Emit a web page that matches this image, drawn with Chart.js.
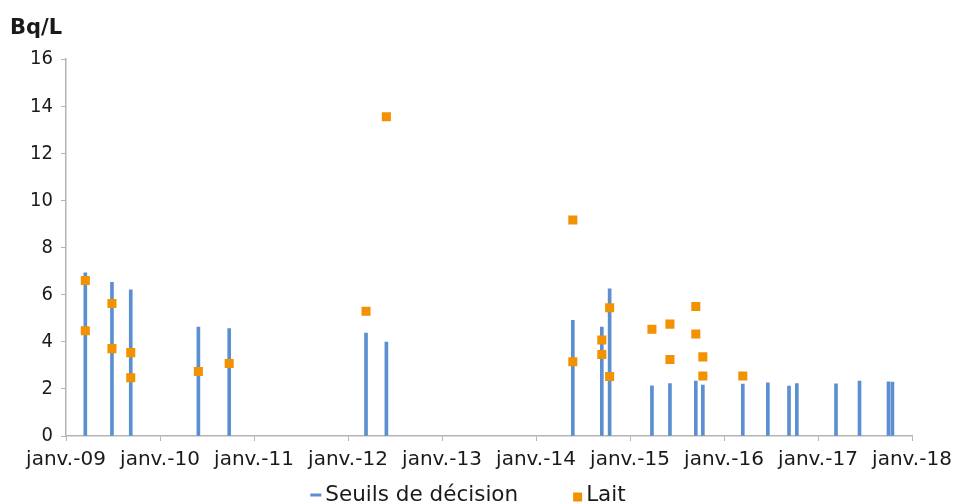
<!DOCTYPE html>
<html>
<head>
<meta charset="utf-8">
<script src="https://cdn.jsdelivr.net/npm/chart.js@4"></script>
<style>
    body { margin: 0; background: #fff; }
    #wrap { width: 953px; height: 503px; position: relative; }
</style>
</head>
<body>
<div id="wrap"><canvas id="chart"></canvas></div>
<script>
// Seuils de décision (bars)
const seuilDates = ['2009-03-15', '2009-06-27', '2009-09-09', '2010-05-28', '2010-09-26',
    '2012-03-10', '2012-05-28', '2014-05-22', '2014-09-13', '2014-10-13',
    '2015-03-25', '2015-06-04', '2015-09-13', '2015-10-10', '2016-03-13',
    '2016-06-19', '2016-09-10', '2016-10-10', '2017-03-10', '2017-06-10',
    '2017-10-01', '2017-10-16'];
const seuilValues = [6.93, 6.52, 6.21, 4.63, 4.56,
    4.37, 3.99, 4.91, 4.63, 6.25,
    2.13, 2.23, 2.33, 2.16, 2.20,
    2.26, 2.12, 2.23, 2.21, 2.33,
    2.30, 2.29];

// Lait (points)
const laitDates = ['2009-03-15', '2009-03-15', '2009-06-27', '2009-06-27', '2009-09-09', '2009-09-09',
    '2010-05-28', '2010-09-26', '2012-03-10', '2012-05-28',
    '2014-05-22', '2014-05-22', '2014-09-13', '2014-09-13', '2014-10-13', '2014-10-13',
    '2015-03-25', '2015-06-04', '2015-06-04', '2015-09-13', '2015-09-13',
    '2015-10-10', '2015-10-10', '2016-03-13'];
const laitValues = [6.60, 4.47, 5.63, 3.71, 3.54, 2.47,
    2.74, 3.08, 5.30, 13.56,
    9.17, 3.15, 4.08, 3.46, 5.45, 2.53,
    4.53, 4.75, 3.25, 5.50, 4.33,
    3.36, 2.55, 2.55];

const yearLabels = ['janv.-09', 'janv.-10', 'janv.-11', 'janv.-12', 'janv.-13',
    'janv.-14', 'janv.-15', 'janv.-16', 'janv.-17', 'janv.-18'];
const yTicks = [0, 2, 4, 6, 8, 10, 12, 14, 16];

const FONT = "'DejaVu Sans', sans-serif";
const FONT_NARROW = "'DejaVu Sans Condensed', 'DejaVu Sans', sans-serif";
const TEXT = '#1a1a1a';
const BLUE = '#5b8fd0';
const ORANGE = '#f39200';
const AXIS = '#b4b4b4';

// months elapsed since janv. 2009
function toMonths(str) {
    const [y, m, d] = str.split('-').map(Number);
    return (y - 2009) * 12 + (m - 1) + (d - 1) / 30;
}

// Legend drawn under the axis labels, Excel-like spacing
const bottomLegend = {
    id: 'bottomLegend',
    afterDraw(chart) {
        const ctx = chart.ctx;
        const baseline = 501;
        const gapItems = 55;
        ctx.save();
        ctx.font = '21.5px ' + FONT;
        ctx.textBaseline = 'alphabetic';

        const items = chart.data.datasets.map(ds => {
            const isBar = ds.type === 'bar';
            return {
                text: ds.label,
                color: isBar ? ds.backgroundColor : ds.pointBackgroundColor,
                w: isBar ? 11 : 9,
                h: isBar ? 3 : 9,
                textW: ctx.measureText(ds.label).width
            };
        });
        const total = items.reduce((s, it) => s + it.w + 4 + it.textW, 0) + gapItems * (items.length - 1);
        let x = 468 - total / 2;

        items.forEach(it => {
            ctx.fillStyle = it.color;
            ctx.fillRect(x, baseline - 6 - it.h / 2 + (it.h > 3 ? 2 : 0), it.w, it.h);
            x += it.w + 4;
            ctx.fillStyle = TEXT;
            ctx.fillText(it.text, x, baseline);
            x += it.textW + gapItems;
        });
        ctx.restore();
    }
};

Chart.defaults.font.family = FONT;
Chart.defaults.color = TEXT;

new Chart(document.getElementById('chart'), {
    type: 'bar',
    data: {
        datasets: [{
            type: 'bar',
            label: 'Seuils de décision',
            data: seuilDates.map((d, i) => ({ x: toMonths(d), y: seuilValues[i] })),
            backgroundColor: BLUE,
            barThickness: 3,
            order: 2
        }, {
            type: 'line',
            label: 'Lait',
            data: laitDates.map((d, i) => ({ x: toMonths(d), y: laitValues[i] })),
            showLine: false,
            pointStyle: 'rect',
            pointRadius: 6.4,
            pointBackgroundColor: ORANGE,
            pointBorderColor: ORANGE,
            pointBorderWidth: 0,
            backgroundColor: ORANGE,
            borderColor: ORANGE,
            order: 1
        }]
    },
    plugins: [bottomLegend],
    options: {
        responsive: true,
        maintainAspectRatio: false,
        animation: false,
        layout: { padding: { left: 10, right: 41, top: 0, bottom: 33 } },
        plugins: {
            title: {
                display: true,
                text: 'Bq/L',
                align: 'start',
                color: TEXT,
                font: { size: 21, weight: 'bold' },
                padding: { top: 16, bottom: 18 }
            },
            legend: { display: false },
            tooltip: { enabled: false }
        },
        scales: {
            x: {
                type: 'linear',
                min: 0,
                max: 108,
                offset: false,
                afterBuildTicks: axis => {
                    axis.ticks = yearLabels.map((_, i) => ({ value: i * 12 }));
                },
                afterFit: axis => {
                    axis.height = 34;
                    axis.paddingLeft = 0;
                    axis.paddingRight = 0;
                },
                ticks: {
                    autoSkip: false,
                    maxRotation: 0,
                    padding: 7,
                    font: { size: 20 },
                    callback: value => yearLabels[Math.round(value / 12)]
                },
                grid: {
                    offset: false,
                    drawOnChartArea: false,
                    drawTicks: true,
                    tickLength: 5,
                    color: AXIS
                },
                border: { color: AXIS, width: 1.5 }
            },
            y: {
                min: 0,
                max: 16,
                afterBuildTicks: axis => {
                    axis.ticks = yTicks.map(v => ({ value: v }));
                },
                afterFit: axis => { axis.width = 56; },
                ticks: {
                    padding: 8,
                    font: { size: 20, family: FONT_NARROW }
                },
                grid: {
                    drawOnChartArea: false,
                    drawTicks: true,
                    tickLength: 5,
                    color: AXIS
                },
                border: { color: AXIS, width: 1.5 }
            }
        }
    }
});
</script>
</body>
</html>
